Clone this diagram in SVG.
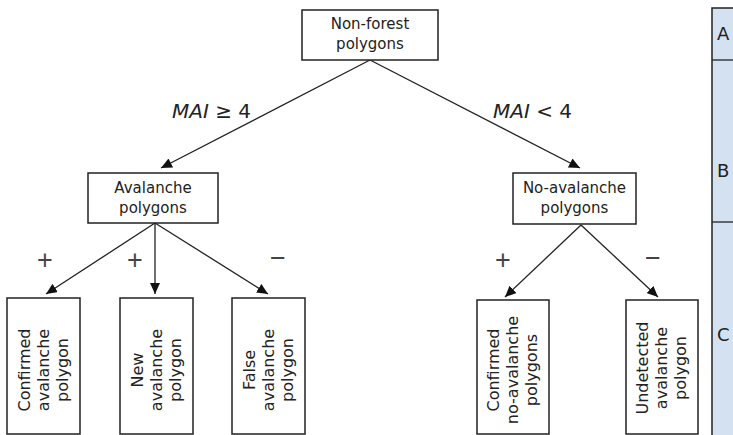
<svg xmlns="http://www.w3.org/2000/svg" width="733" height="435" viewBox="0 0 733 435">
<defs>
<marker id="ah" markerUnits="userSpaceOnUse" markerWidth="12" markerHeight="10" refX="11" refY="5" orient="auto">
<path d="M0,0 L11,5 L0,10 z" fill="#111"/>
</marker>
<style>
.box{fill:#fff;stroke:#222;stroke-width:1.5}
.t{font-family:"DejaVu Sans","Liberation Sans",sans-serif;font-size:15px;fill:#222;text-anchor:middle}
.v{font-size:16px}
.c{stroke:#222;stroke-width:1.3;fill:none;marker-end:url(#ah)}
.lbl{font-family:"DejaVu Sans","Liberation Sans",sans-serif;font-size:20px;fill:#222}
.sg{font-family:"Liberation Sans","DejaVu Sans",sans-serif;font-size:27px;fill:#444;text-anchor:middle}
.pl{font-family:"DejaVu Sans","Liberation Sans",sans-serif;font-size:18px;fill:#222}
</style>
</defs>
<rect width="733" height="435" fill="#fff"/>

<g id="panel">
<rect x="712" y="8" width="30" height="440" fill="#d4e1f1" stroke="#222" stroke-width="1.5"/>
<line x1="712" y1="60" x2="733" y2="60" stroke="#222" stroke-width="1.3"/>
<line x1="712" y1="222" x2="733" y2="222" stroke="#222" stroke-width="1.3"/>
<text class="pl" x="717" y="40">A</text>
<text class="pl" x="717" y="177">B</text>
<text class="pl" x="717" y="341">C</text>
</g>

<g id="connectors">
<line class="c" x1="370" y1="60" x2="161" y2="168"/>
<line class="c" x1="370" y1="60" x2="580" y2="168"/>
<line class="c" x1="155" y1="223" x2="46" y2="294"/>
<line class="c" x1="155" y1="223" x2="155" y2="294"/>
<line class="c" x1="155" y1="223" x2="268" y2="294"/>
<line class="c" x1="581" y1="225" x2="505" y2="297"/>
<line class="c" x1="581" y1="225" x2="658" y2="297"/>
</g>

<g id="labels">
<text class="lbl" x="172" y="118"><tspan font-style="italic">MAI</tspan> ≥ 4</text>
<text class="lbl" x="493" y="118"><tspan font-style="italic">MAI</tspan> &lt; 4</text>
<text class="sg" x="45" y="269">+</text>
<text class="sg" x="135" y="269">+</text>
<text class="sg" x="278" y="267">−</text>
<text class="sg" x="503" y="269">+</text>
<text class="sg" x="653" y="267">−</text>
</g>

<g id="n-top">
<rect class="box" x="302" y="10" width="136" height="50"/>
<text class="t" x="370" y="29">Non-forest</text>
<text class="t" x="370" y="49">polygons</text>
</g>

<g id="n-aval">
<rect class="box" x="88" y="173" width="130" height="50"/>
<text class="t" x="153" y="193">Avalanche</text>
<text class="t" x="153" y="213">polygons</text>
</g>

<g id="n-noaval">
<rect class="box" x="513" y="173" width="123" height="51"/>
<text class="t" x="574.5" y="193">No-avalanche</text>
<text class="t" x="574.5" y="213">polygons</text>
</g>

<g id="n-confirmed">
<rect class="box" x="7" y="298" width="73" height="136"/>
<text class="t v" transform="translate(43.5,370) rotate(-90)"><tspan x="0" y="-14">Confirmed</tspan><tspan x="0" y="5">avalanche</tspan><tspan x="0" y="24">polygon</tspan></text>
</g>

<g id="n-new">
<rect class="box" x="120" y="298" width="73" height="136"/>
<text class="t v" transform="translate(156.5,370) rotate(-90)"><tspan x="0" y="-14">New</tspan><tspan x="0" y="5">avalanche</tspan><tspan x="0" y="24">polygon</tspan></text>
</g>

<g id="n-false">
<rect class="box" x="232" y="298" width="73" height="136"/>
<text class="t v" transform="translate(268.5,370) rotate(-90)"><tspan x="0" y="-14">False</tspan><tspan x="0" y="5">avalanche</tspan><tspan x="0" y="24">polygon</tspan></text>
</g>

<g id="n-confirmed-no">
<rect class="box" x="477" y="300" width="72" height="134"/>
<text class="t v" transform="translate(513,370) rotate(-90)"><tspan x="0" y="-14">Confirmed</tspan><tspan x="0" y="5">no-avalanche</tspan><tspan x="0" y="24">polygons</tspan></text>
</g>

<g id="n-undetected">
<rect class="box" x="626" y="300" width="72" height="134"/>
<text class="t v" transform="translate(662,368) rotate(-90)"><tspan x="0" y="-14">Undetected</tspan><tspan x="0" y="5">avalanche</tspan><tspan x="0" y="24">polygon</tspan></text>
</g>
</svg>
